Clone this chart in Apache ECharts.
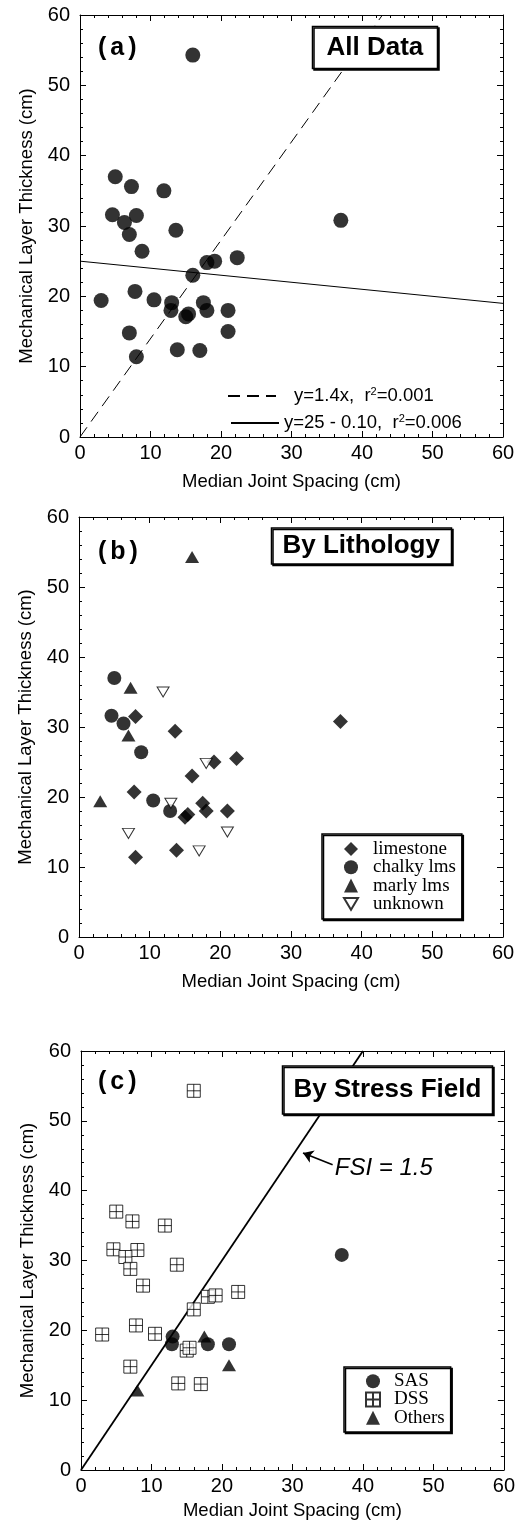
<!DOCTYPE html>
<html><head><meta charset="utf-8">
<script src="https://cdn.jsdelivr.net/npm/echarts@6/dist/echarts.min.js"></script>
<style>html,body{margin:0;padding:0;background:#fff}#c{width:518px;height:1523px}</style>
</head><body><div id="c"></div>
<script>
// ---- data ----
const spacing   = [16.0, 5.0, 7.3, 11.9, 4.6, 8.0, 6.3, 7.0, 13.6, 8.8, 37.0, 18.0, 19.1, 22.3, 16.0, 3.0, 7.8, 10.5, 13.0, 12.9, 15.0, 15.4, 17.5, 18.0, 21.0, 21.0, 7.0, 8.0, 13.8, 17.0];
const thickness = [54.3, 37.0, 35.6, 35.0, 31.6, 31.5, 30.5, 28.8, 29.4, 26.4, 30.8, 24.8, 25.0, 25.5, 23.0, 19.4, 20.7, 19.5, 19.1, 18.0, 17.1, 17.5, 19.1, 18.0, 18.0, 15.0, 14.8, 11.4, 12.4, 12.3];
const lithology = ['marly lms','chalky lms','marly lms','unknown','chalky lms','limestone','chalky lms','marly lms','limestone','chalky lms','limestone','unknown','limestone','limestone','limestone','marly lms','limestone','chalky lms','unknown','chalky lms','limestone','limestone','limestone','limestone','limestone','unknown','unknown','limestone','limestone','unknown'];
const stress    = ['DSS','DSS','DSS','DSS','DSS','DSS','DSS','DSS','DSS','DSS','SAS','DSS','DSS','DSS','DSS','DSS','DSS','DSS','SAS','SAS','DSS','DSS','Others','SAS','SAS','Others','DSS','Others','DSS','DSS'];
const lithologyGroups = ['limestone','chalky lms','marly lms','unknown'];
const stressGroups = ['SAS','DSS','Others'];
const powerFitLine  = [[0, 0], [42.9, 60]];   // y = 1.4x
const linearFitLine = [[0, 25], [60, 19]];    // y = 25 - 0.10x
const fsiLine       = [[0, 0], [40, 60]];     // FSI = 1.5
const fsiArrow      = [[35.7, 43.7], [31.5, 45.4]];
const fsiTextAt     = [36.0, 43.2];
const fitLabels = {powerFit: 'y=1.4x,  r{sup|2}=0.001', linearFit: 'y=25 - 0.10,  r{sup|2}=0.006'};
const panelLetters = ['a','b','c'];
const panelTitles = ['All Data','By Lithology','By Stress Field'];

// ---- styling ----
const SANS = '"Liberation Sans", Arial, Helvetica, sans-serif';
const SERIF = '"Liberation Serif", "Times New Roman", serif';
const grids = [
  {left: 80, top: 15, width: 423, height: 422},
  {left: 79, top: 517, width: 424, height: 420},
  {left: 81, top: 1051, width: 423, height: 419}
];
const xNameGap = [35, 35, 31];

function pts(fn) {
  const out = [];
  for (let i = 0; i < spacing.length; i++) if (fn(i)) out.push([spacing[i], thickness[i]]);
  return out;
}

const xAxes = [], yAxes = [];
grids.forEach((g, i) => {
  const common = {
    gridIndex: i, type: 'value', min: 0, max: 60, interval: 10,
    axisLine: {show: true, onZero: false, lineStyle: {color: '#000', width: 1}},
    axisTick: {show: true, inside: true, length: 6, lineStyle: {color: '#000', width: 1}},
    minorTick: {show: true, splitNumber: 5, length: 3, lineStyle: {color: '#000', width: 1}},
    splitLine: {show: false}, minorSplitLine: {show: false}
  };
  const lbl = {color: '#000', fontSize: 20, fontFamily: SANS};
  const nm = {color: '#000', fontSize: 18.5, fontFamily: SANS};
  xAxes.push(Object.assign({}, common, {position: 'bottom', name: 'Median Joint Spacing (cm)', nameLocation: 'middle', nameGap: xNameGap[i], nameTextStyle: nm, axisLabel: Object.assign({margin: 6}, lbl)}));
  xAxes.push(Object.assign({}, common, {position: 'top', axisLabel: {show: false}}));
  yAxes.push(Object.assign({}, common, {position: 'left', name: 'Mechanical Layer Thickness (cm)', nameLocation: 'middle', nameGap: 39, nameTextStyle: nm, axisLabel: Object.assign({margin: 10}, lbl)}));
  yAxes.push(Object.assign({}, common, {position: 'right', axisLabel: {show: false}}));
});

const black = {color: '#000'};
const openStyle = {color: '#fff', borderColor: '#000', borderWidth: 1};
const lithSymbols = {
  'limestone': {symbol: 'diamond', symbolSize: 15, itemStyle: black},
  'chalky lms': {symbol: 'circle', symbolSize: 14, itemStyle: black},
  'marly lms': {symbol: 'triangle', symbolSize: [14, 12], itemStyle: black},
  'unknown': {symbol: 'path://M0,0L10,0L5,8.4Z', symbolSize: [12, 10], itemStyle: openStyle}
};
const DSS_PATH = 'path://M0,0H10V10H0Z M5,0V10 M0,5H10';
const stressSymbols = {
  'SAS': {symbol: 'circle', symbolSize: 14, itemStyle: black},
  'DSS': {symbol: DSS_PATH, symbolSize: 13, itemStyle: openStyle},
  'Others': {symbol: 'triangle', symbolSize: [14, 12], itemStyle: black}
};

const series = [];
// panel a
series.push({type: 'scatter', name: 'All data', xAxisIndex: 0, yAxisIndex: 0, symbol: 'circle', symbolSize: 15, itemStyle: black, data: pts(() => true), z: 3});
series.push({type: 'line', name: 'powerFit', xAxisIndex: 0, yAxisIndex: 0, symbol: 'none', itemStyle: {color: '#000'}, lineStyle: {color: '#000', width: 1, type: [12, 7]}, data: powerFitLine, z: 2});
series.push({type: 'line', name: 'linearFit', xAxisIndex: 0, yAxisIndex: 0, symbol: 'none', itemStyle: {color: '#000'}, lineStyle: {color: '#000', width: 1, type: 'solid'}, data: linearFitLine, z: 2});
// panel b
lithologyGroups.forEach(gName => {
  series.push(Object.assign({type: 'scatter', name: gName, xAxisIndex: 2, yAxisIndex: 2, data: pts(i => lithology[i] === gName), z: 3}, lithSymbols[gName]));
});
// panel c
series.push({type: 'line', name: 'FSI', xAxisIndex: 4, yAxisIndex: 4, symbol: 'none', itemStyle: {color: '#000'}, lineStyle: {color: '#000', width: 1.8}, data: fsiLine, z: 2,
  markLine: {silent: true, symbol: ['none', 'arrow'], symbolSize: 10, label: {show: false}, lineStyle: {color: '#000', width: 1.6, type: 'solid'},
    itemStyle: {color: '#000'},
    data: [[{coord: fsiArrow[0]}, {coord: fsiArrow[1]}]]},
  markPoint: {silent: true, symbol: 'circle', symbolSize: 0, data: [{coord: fsiTextAt}],
    label: {show: true, position: 'right', distance: 0, formatter: 'FSI = 1.5', fontStyle: 'italic', fontSize: 24, fontFamily: SANS, color: '#000'}}
});
stressGroups.forEach(gName => {
  series.push(Object.assign({type: 'scatter', name: gName, xAxisIndex: 4, yAxisIndex: 4, data: pts(i => stress[i] === gName), z: 3}, stressSymbols[gName]));
});

const boxStyle = {backgroundColor: '#fff', borderColor: '#000', borderWidth: 1.5, shadowColor: '#000', shadowBlur: 0, shadowOffsetX: 1.5, shadowOffsetY: 1.5};
const titleText = {fontSize: 26, fontWeight: 'bold', fontFamily: SANS, color: '#000', lineHeight: 26};
const letterTops = [36, 540, 1070];
const letterFont = {fontSize: 25, fontWeight: 'bold', fontFamily: SANS, color: '#000'};
const titles = [];
panelLetters.forEach((l, i) => {
  titles.push({text: '{p|(}{l|' + l + '}{p|)}', left: 98, top: letterTops[i], padding: 0,
    textStyle: Object.assign({rich: {p: Object.assign({}, letterFont), l: Object.assign({padding: [0, 4]}, letterFont)}}, letterFont)});
});
titles.push(Object.assign({text: panelTitles[0], left: 312, top: 26, padding: [8.5, 14.5], textStyle: titleText}, boxStyle));
titles.push(Object.assign({text: panelTitles[1], left: 271, top: 528, padding: [5, 11.5], textStyle: titleText}, boxStyle));
titles.push(Object.assign({text: panelTitles[2], left: 282, top: 1066, padding: [11, 11.5], textStyle: titleText}, boxStyle));

const fitText = {fontFamily: SANS, fontSize: 18.5, color: '#000', lineHeight: 20,
  rich: {sup: {fontFamily: SANS, fontSize: 11, color: '#000', verticalAlign: 'top', lineHeight: 10}}};
const serifText = {fontFamily: SERIF, fontSize: 19, color: '#000'};
const hiddenIcon = {color: 'rgba(0,0,0,0)', borderColor: 'rgba(0,0,0,0)', borderWidth: 0};
const legends = [
  {data: ['powerFit'], left: 227, top: 386, padding: 0, itemWidth: 48, itemHeight: 20, selectedMode: false, itemStyle: hiddenIcon,
    formatter: n => fitLabels[n], textStyle: Object.assign({padding: [0, 0, 0, 13]}, fitText)},
  {data: ['linearFit'], left: 230, top: 413, padding: 0, itemWidth: 48, itemHeight: 20, selectedMode: false, itemStyle: hiddenIcon,
    formatter: n => fitLabels[n], textStyle: Object.assign({padding: [0, 0, 0, 0]}, fitText)},
  Object.assign({data: lithologyGroups.map(n => ({name: n, icon: lithSymbols[n].symbol})), left: 322, top: 834, orient: 'vertical',
    padding: [5.5, 6, 5.5, 21], itemWidth: 14, itemHeight: 14, itemGap: -0.7, selectedMode: false,
    textStyle: Object.assign({padding: [0, 0, 0, 10]}, serifText)}, boxStyle),
  Object.assign({data: stressGroups.map(n => ({name: n, icon: stressSymbols[n].symbol})), left: 344, top: 1367, orient: 'vertical',
    padding: [4.7, 6, 4.7, 21], itemWidth: 14, itemHeight: 14, itemGap: -0.7, selectedMode: false,
    textStyle: Object.assign({padding: [0, 0, 0, 9]}, serifText)}, boxStyle)
];

const chart = echarts.init(document.getElementById('c'), null, {renderer: 'canvas'});
chart.setOption({
  animation: false,
  backgroundColor: '#fff',
  title: titles,
  legend: legends,
  grid: grids,
  xAxis: xAxes,
  yAxis: yAxes,
  series: series
});
</script></body></html>
